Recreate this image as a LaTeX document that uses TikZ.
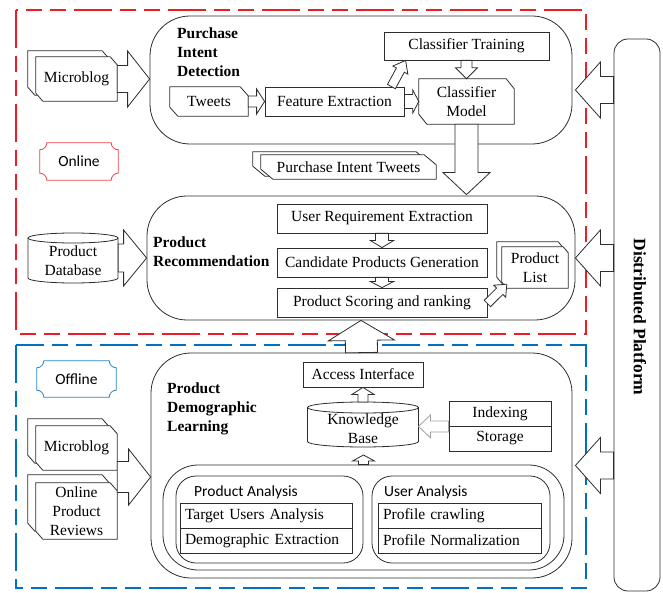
\documentclass[tikz,border=0pt]{standalone}
\usepackage{fontspec}
\setmainfont{Liberation Serif}
\newfontfamily\calib{Carlito}
\usetikzlibrary{calc}
\pgfdeclarelayer{bg}
\pgfsetlayers{bg,main}
\definecolor{dred}{RGB}{235,30,40}
\definecolor{dblue}{RGB}{0,112,192}
\definecolor{ln}{RGB}{45,45,45}
\tikzset{
  tx/.style={font=\fontsize{15.5}{19}\selectfont, align=center, inner sep=0pt},
  boldlbl/.style={font=\fontsize{15.5}{19}\selectfont\bfseries, align=left, inner sep=0pt, anchor=north west},
  sanslbl/.style={font=\calib\fontsize{15.5}{19}\selectfont, inner sep=0pt, anchor=west},
  rbox/.style={tx, draw=ln, line width=0.8pt, fill=white},
  lbox/.style={rbox, align=left, inner xsep=5pt},
  bigbox/.style={draw=ln, line width=0.8pt, inner sep=0pt},
  shp/.style={draw=ln, line width=0.8pt, fill=white, line join=miter},
  barr/.style={draw=ln, line width=0.8pt, fill=white, line join=miter},
  dashpat/.style={line width=1.5pt, dash pattern=on 38pt off 8pt on 16pt off 8pt on 16pt off 8pt},
}
% block arrow: [opts]{tail}{tip}{shaft half}{head half}{head length}
\newcommand\barrow[6][]{%
  \coordinate (bh) at ($(#3)!#6pt!(#2)$);
  \draw[barr,#1] ($(#2)!#4pt!90:(#3)$) -- ($(bh)!#4pt!90:(#3)$) -- ($(bh)!#5pt!90:(#3)$) -- (#3)
     -- ($(bh)!#5pt!-90:(#3)$) -- ($(bh)!#4pt!-90:(#3)$) -- ($(#2)!#4pt!-90:(#3)$) -- cycle;}
% document shape: {node}{dx}{dy canvas}{cut h}{cut v}
\newcommand\docpoly[5]{%
  \draw[shp] ([xshift=#2pt,yshift=#3pt]#1.north west) -- ([xshift={#2pt-#4pt},yshift=#3pt]#1.north east)
    -- ([xshift=#2pt,yshift={#3pt-#5pt}]#1.north east) -- ([xshift=#2pt,yshift=#3pt]#1.south east)
    -- ([xshift={#2pt+#4pt},yshift=#3pt]#1.south west) -- ([xshift=#2pt,yshift={#3pt+#5pt}]#1.south west) -- cycle;}
% plaque: {node}{colour}{r}
\newcommand\plaque[3]{%
  \draw[#2, line width=0.8pt, fill=white] ([xshift=#3pt]#1.north west) -- ([xshift=-#3pt]#1.north east)
    arc[start angle=180,end angle=270,radius=#3pt] -- ([yshift=#3pt]#1.south east)
    arc[start angle=90,end angle=180,radius=#3pt] -- ([xshift=#3pt]#1.south west)
    arc[start angle=0,end angle=90,radius=#3pt] -- ([yshift=-#3pt]#1.north west)
    arc[start angle=270,end angle=360,radius=#3pt] -- cycle;}
% cylinder: {node}{half width}{top dist}{bottom dist}{ry}
\newcommand\cylpoly[5]{%
  \draw[shp] ([xshift=-#2pt,yshift={#3pt-#5pt}]#1.center) -- ([xshift=-#2pt,yshift={-#4pt+#5pt}]#1.center)
    arc[start angle=180,end angle=360,x radius=#2pt,y radius=#5pt] -- ([xshift=#2pt,yshift={#3pt-#5pt}]#1.center)
    arc[start angle=0,end angle=180,x radius=#2pt,y radius=#5pt] -- cycle;
  \draw[shp,fill=none] ([xshift=-#2pt,yshift={#3pt-#5pt}]#1.center)
    arc[start angle=180,end angle=360,x radius=#2pt,y radius=#5pt];}
\begin{document}
\begin{tikzpicture}[x=1pt,y=-1pt]
\useasboundingbox (0,0) rectangle (663,593);
% dashed regions
\draw[dred, dashpat] (16,10) rectangle (586,334);
\draw[dblue, dashpat] (16,345) rectangle (586,588);
% big containers
\node[bigbox, rounded corners=40pt, minimum width=422pt, minimum height=128pt] (pid) at (361,80) {};
\node[bigbox, rounded corners=40pt, minimum width=428pt, minimum height=124pt] (pr) at (361,258) {};
\node[bigbox, rounded corners=40pt, minimum width=421pt, minimum height=225pt] (pdl) at (361.5,465.5) {};
\node[bigbox, rounded corners=14pt, minimum width=46pt, minimum height=552pt] (dp) at (637,315) {};
\node[bigbox, rounded corners=35pt, minimum width=401pt, minimum height=105pt] (inner) at (363.5,517.5) {};
\node[bigbox, rounded corners=20pt, minimum width=187pt, minimum height=87pt] (pa) at (269.5,519.5) {};
\node[bigbox, rounded corners=20pt, minimum width=178pt, minimum height=87pt] (ua) at (461,519.5) {};
% labels
\node[boldlbl] (pidl) at (177,28) {Purchase\\Intent\\Detection};
\node[boldlbl] (prl) at (153,237) {Product\\Recommendation};
\node[boldlbl] (pdll) at (167,383) {Product\\Demographic\\Learning};
\node[sanslbl] (pal) at (194,492) {Product Analysis};
\node[sanslbl] (ual) at (384,492) {User Analysis};
\node[font=\fontsize{17.5}{20}\selectfont\bfseries, inner sep=0pt, rotate=-90] (dpt) at ([xshift=3pt,yshift=-2pt]dp.center) {Distributed Platform};
% rectangles
\node[rbox, minimum width=165pt, minimum height=28pt] (ct) at (466.5,46) {Classifier Training};
\node[rbox, minimum width=139pt, minimum height=29pt] (fe) at (334.5,101.5) {Feature Extraction};
\node[rbox, minimum width=210pt, minimum height=29pt] (ure) at (382,218.5) {User Requirement Extraction};
\node[rbox, minimum width=210pt, minimum height=29pt] (cpg) at (382,262.5) {Candidate Products Generation};
\node[rbox, minimum width=210pt, minimum height=29pt] (psr) at (382,302.5) {Product Scoring and ranking};
\node[rbox, minimum width=120pt, minimum height=25pt] (ai) at (363,374.5) {Access Interface};
\node[rbox, minimum width=102pt, minimum height=25pt] (idx) at (500,413.5) {Indexing};
\node[rbox, minimum width=102pt, minimum height=25pt] (sto) at (500,438.5) {Storage};
\node[lbox, text width=162pt, minimum height=25pt] (tua) at (266,515.5) {Target Users Analysis};
\node[lbox, text width=162pt, minimum height=25pt] (dex) at (266,540.5) {Demographic Extraction};
\node[lbox, text width=153pt, minimum height=25pt] (pcr) at (459.5,515.5) {Profile crawling};
\node[lbox, text width=153pt, minimum height=25pt] (pno) at (459.5,540.5) {Profile Normalization};
% shaped nodes (text)
\node[tx, minimum width=78pt, minimum height=29pt] (tw) at (209,101.5) {Tweets};
\node[tx, minimum width=95pt, minimum height=45pt] (cm) at (466.5,101.5) {Classifier\\Model};
\node[tx, minimum width=81pt, minimum height=44pt] (mb1) at (76.5,79) {Microblog};
\node[tx, minimum width=175pt, minimum height=24pt] (pit) at (348.5,167) {Purchase Intent Tweets};
\node[tx, minimum width=66pt, minimum height=41pt] (pl) at (535,267.5) {Product\\List};
\node[tx, minimum width=81pt, minimum height=44pt] (mb2) at (76.5,448) {Microblog};
\node[tx, minimum width=81pt, minimum height=56pt] (opr) at (76.5,511) {Online\\Product\\Reviews};
\node[tx, minimum width=90pt, minimum height=50pt] (db) at (73,261) {Product\\Database};
\node[tx, minimum width=111pt, minimum height=45pt] (kb) at (363,429) {Knowledge\\Base};
\node[font=\calib\fontsize{15.5}{19}\selectfont, inner sep=0pt, minimum width=78pt, minimum height=37pt] (onl) at (79,161.5) {Online};
\node[font=\calib\fontsize{15.5}{19}\selectfont, inner sep=0pt, minimum width=79pt, minimum height=36pt] (off) at (76.5,379) {Offline};
\begin{pgfonlayer}{bg}
  \docpoly{tw}{0}{0}{8}{9}
  \docpoly{cm}{0}{0}{8}{10}
  \docpoly{mb1}{-8}{6}{7}{8}
  \docpoly{mb1}{0}{0}{7}{8}
  \docpoly{pit}{-8}{3}{12}{10}
  \docpoly{pit}{0}{0}{12}{10}
  \docpoly{pl}{-5}{5}{5}{6}
  \docpoly{pl}{0}{0}{5}{6}
  \docpoly{mb2}{-8}{7}{7}{8}
  \docpoly{mb2}{0}{0}{7}{8}
  \docpoly{opr}{-8}{8}{7}{8}
  \docpoly{opr}{0}{0}{7}{8}
  \cylpoly{db}{45}{28}{22}{5}
  \cylpoly{kb}{55.5}{27}{18}{5.5}
  \plaque{onl}{dred!85!white}{7}
  \plaque{off}{dblue!85!white}{7}
\end{pgfonlayer}
% arrow end points
\coordinate (a1t) at (mb1.east -| pid.west);
\coordinate (a2t) at (tw.east -| fe.west);
\coordinate (a3t) at (fe.east -| cm.west);
\coordinate (a5s) at ([xshift=-13pt]fe.north east);
\coordinate (a5t) at ([xshift=22pt]ct.south west);
\coordinate (a6t) at ([yshift=1pt]cm.south |- pr.north);
\coordinate (a7s) at (pr.west -| db.east);
\coordinate (a10s) at ([yshift=-1pt]psr.east);
\coordinate (a10t) at ([xshift=5pt,yshift=4pt]pl.south west);
\coordinate (a12t) at ([xshift=3pt,yshift=-10pt]pid.east);
\coordinate (a12s) at (a12t -| dp.west);
\coordinate (a13t) at (pr.east);
\coordinate (a13s) at (a13t -| dp.west);
\coordinate (a14t) at ([xshift=3pt]pdl.east);
\coordinate (a14s) at (a14t -| dp.west);
\coordinate (kbtop) at ([yshift=27pt]kb.center);
\coordinate (kbbot) at ([yshift=-26pt]kb.center);
\coordinate (kbr) at ([xshift=55.5pt]kb.center);
\coordinate (a15s) at (ai.south |- kbtop);
\coordinate (a16t) at (inner.north |- kbbot);
\coordinate (a17t) at (idx.south west -| kbr);
\coordinate (a18t) at ([yshift=-11.5pt]pdl.west);
\coordinate (a18s) at (a18t -| mb2.east);
% block arrows
\barrow{mb1.east}{a1t}{13.5}{28}{22}
\barrow{tw.east}{a2t}{5.5}{12.5}{8}
\barrow{fe.east}{a3t}{7}{11.5}{6}
\barrow{ct.south}{cm.north}{5.5}{11}{11}
\barrow{a5s}{a5t}{4.5}{8.5}{11}
\barrow{cm.south}{a6t}{11.5}{23.5}{22}
\barrow{a7s}{pr.west}{14}{28}{23}
\barrow{ure.south}{cpg.north}{6.5}{11.5}{7}
\barrow{cpg.south}{psr.north}{6.5}{11.5}{6}
\barrow{a10s}{a10t}{4.5}{8.5}{10}
\barrow{pdl.north}{pr.south}{16}{33}{20}
\barrow{a12s}{a12t}{13.5}{28}{25}
\barrow{a13s}{a13t}{13.5}{28}{25}
\barrow{a14s}{a14t}{13.5}{28}{25}
\barrow{a15s}{ai.south}{5}{11}{7}
\barrow{inner.north}{a16t}{5}{11}{6}
\barrow[draw=gray!75]{idx.south west}{a17t}{5.5}{11.5}{12}
\barrow{a18s}{a18t}{15.5}{28}{22}
\end{tikzpicture}
\end{document}
